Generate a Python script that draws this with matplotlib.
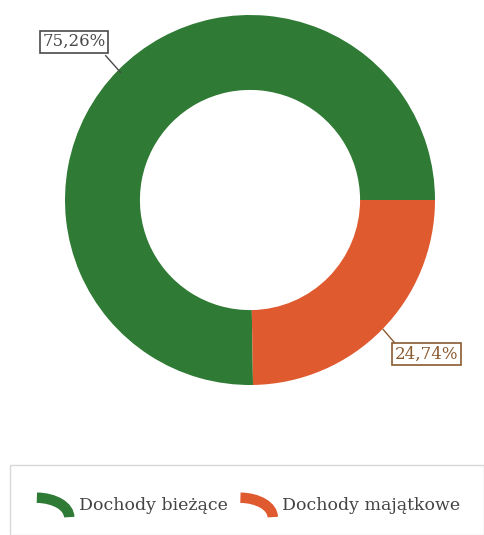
import matplotlib.pyplot as plt
from matplotlib.patches import Arc, Rectangle
from matplotlib.legend_handler import HandlerBase

categories = ["Dochody bieżące", "Dochody majątkowe"]
shares = [75.26, 24.74]
labels = ["75,26%", "24,74%"]
colors = ["#2f7a34", "#e05a30"]
label_colors = ["#4a4a4a", "#8a5a30"]


class HandlerArcIcon(HandlerBase):
    # legend icon drawn as a thick quarter arc, like a donut slice
    def create_artists(self, legend, orig_handle, xdescent, ydescent,
                       width, height, fontsize, trans):
        cx = -xdescent
        cy = -ydescent - height * 0.35
        arc = Arc((cx, cy), 2 * width, 2.5 * height, theta1=0, theta2=88,
                  color=orig_handle.get_facecolor(), linewidth=7.5,
                  transform=trans)
        return [arc]


plt.rcParams["font.family"] = ["DejaVu Serif"]

fig = plt.figure(figsize=(4.84, 5.35), dpi=100)
ax = fig.add_axes([0, 85 / 535, 500 / 484, 500 / 535])

wedges, _ = ax.pie(shares, colors=colors, startangle=0, counterclock=True,
                   radius=1.0, wedgeprops=dict(width=0.405, linewidth=0))
ax.set_xlim(-250 / 185, 250 / 185)
ax.set_ylim(-250 / 185, 250 / 185)
ax.set_aspect("equal")
ax.axis("off")

# labels with leader lines
label_pos = [(-0.95, 0.855), (0.955, -0.835)]
anchor_pos = [(-0.70, 0.69), (0.72, -0.70)]
line_start = [(-0.78, 0.78), (0.78, -0.77)]
for lab, (tx, ty), (ax_, ay), (sx, sy), c in zip(labels, label_pos, anchor_pos,
                                                  line_start, label_colors):
    ax.plot([sx, ax_], [sy, ay], color=c, linewidth=1)
    ax.text(tx, ty, lab, ha="center", va="center", fontsize=12, color=c,
            bbox=dict(boxstyle="square,pad=0.15", facecolor="white",
                      edgecolor=c, linewidth=1.2))

# legend frame
fig.patches.append(Rectangle((10 / 484, 0), 474 / 484, 70 / 535,
                             transform=fig.transFigure, facecolor="none",
                             edgecolor="#d8d8d8", linewidth=1))
fig.legend(wedges, categories, loc="center", bbox_to_anchor=(0.513, 30 / 535),
           ncol=2, frameon=False, fontsize=12.5, handlelength=1.9,
           handleheight=1.0, columnspacing=0.7, handletextpad=0.55,
           labelcolor="#444444",
           handler_map={w: HandlerArcIcon() for w in wedges})

fig.savefig("out.png", dpi=100)
